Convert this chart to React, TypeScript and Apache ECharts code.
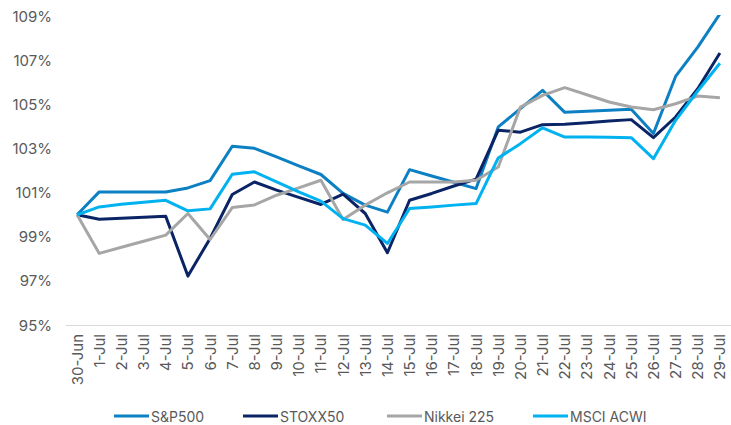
import React, { useEffect, useRef } from "react";
import * as echarts from "echarts";

const categories = [
  "30-Jun", "1-Jul", "2-Jul", "3-Jul", "4-Jul", "5-Jul", "6-Jul", "7-Jul", "8-Jul", "9-Jul",
  "10-Jul", "11-Jul", "12-Jul", "13-Jul", "14-Jul", "15-Jul", "16-Jul", "17-Jul", "18-Jul", "19-Jul",
  "20-Jul", "21-Jul", "22-Jul", "23-Jul", "24-Jul", "25-Jul", "26-Jul", "27-Jul", "28-Jul", "29-Jul",
];

const sp500 = [
  100.0, 101.04, 101.04, 101.04, 101.04, 101.22, 101.55, 103.11, 103.02, 102.63,
  102.22, 101.83, 100.97, 100.44, 100.12, 102.05, 101.76, 101.48, 101.19, 103.99,
  104.82, 105.65, 104.65, 104.7, 104.75, 104.79, 103.69, 106.28, 107.61, 109.12,
];

const stoxx50 = [
  100.0, 99.8, 99.84, 99.89, 99.93, 97.22, 98.93, 100.92, 101.49, 101.12,
  100.79, 100.47, 100.94, 100.06, 98.28, 100.66, 100.97, 101.31, 101.62, 103.84,
  103.75, 104.09, 104.11, 104.18, 104.26, 104.32, 103.5, 104.44, 105.72, 107.34,
];

const nikkei225 = [
  100.0, 98.25, 98.53, 98.8, 99.08, 100.06, 98.88, 100.33, 100.45, 100.89,
  101.22, 101.57, 99.79, 100.44, 101.0, 101.49, 101.49, 101.49, 101.57, 102.17,
  104.89, 105.42, 105.77, 105.45, 105.12, 104.89, 104.77, 105.04, 105.39, 105.31,
];

const msciAcwi = [
  100.0, 100.36, 100.48, 100.57, 100.66, 100.18, 100.27, 101.84, 101.95, 101.49,
  101.04, 100.62, 99.83, 99.53, 98.7, 100.29, 100.36, 100.44, 100.51, 102.58,
  103.23, 103.95, 103.53, 103.53, 103.52, 103.5, 102.55, 104.29, 105.62, 106.88,
];

const seriesNames = ["S&P500", "STOXX50", "Nikkei 225", "MSCI ACWI"];
const seriesColors = ["#0c80c3", "#0b2465", "#a6a6a6", "#00b2ef"];
const seriesData = [sp500, stoxx50, nikkei225, msciAcwi];
const legendLefts = [114, 243, 387, 533];

const FONT = "Inter, 'Noto Sans', sans-serif";
const TEXT_COLOR = "#595959";

export default function App() {
  const ref = useRef<HTMLDivElement>(null);

  useEffect(() => {
    if (!ref.current) return;
    const chart = echarts.init(ref.current, undefined, { renderer: "svg" });
    chart.setOption({
      animation: false,
      backgroundColor: "#ffffff",
      textStyle: { fontFamily: FONT },
      grid: { left: 66, right: -7, top: 16.5, bottom: 100, containLabel: false },
      legend: seriesNames.map((name, i) => ({
        data: [name],
        left: legendLefts[i],
        top: 409,
        padding: 0,
        icon: "rect",
        itemWidth: 35,
        itemHeight: 3,
        textStyle: { color: TEXT_COLOR, fontSize: 14, fontFamily: FONT, padding: [0, 0, 0, -3] },
      })),
      xAxis: {
        type: "category",
        data: categories,
        boundaryGap: true,
        axisLine: { show: true, lineStyle: { color: "#d9d9d9", width: 1 } },
        axisTick: { show: false },
        axisLabel: {
          interval: 0,
          rotate: 90,
          margin: 9,
          color: TEXT_COLOR,
          fontSize: 15,
          fontFamily: FONT,
        },
        splitLine: { show: false },
      },
      yAxis: {
        type: "value",
        min: 95,
        max: 109,
        interval: 2,
        axisLine: { show: false },
        axisTick: { show: false },
        splitLine: { show: false },
        axisLabel: {
          formatter: "{value}%",
          margin: 14,
          color: TEXT_COLOR,
          fontSize: 15,
          fontFamily: FONT,
        },
      },
      series: seriesNames.map((name, i) => ({
        name,
        type: "line",
        data: seriesData[i],
        symbol: "none",
        smooth: false,
        lineStyle: { color: seriesColors[i], width: 3, cap: "butt", join: "round" },
        itemStyle: { color: seriesColors[i] },
      })),
    });
    return () => chart.dispose();
  }, []);

  return (
    <div
      ref={ref}
      style={{ position: "fixed", left: 0, top: 0, width: 731, height: 425, background: "#fff" }}
    />
  );
}
